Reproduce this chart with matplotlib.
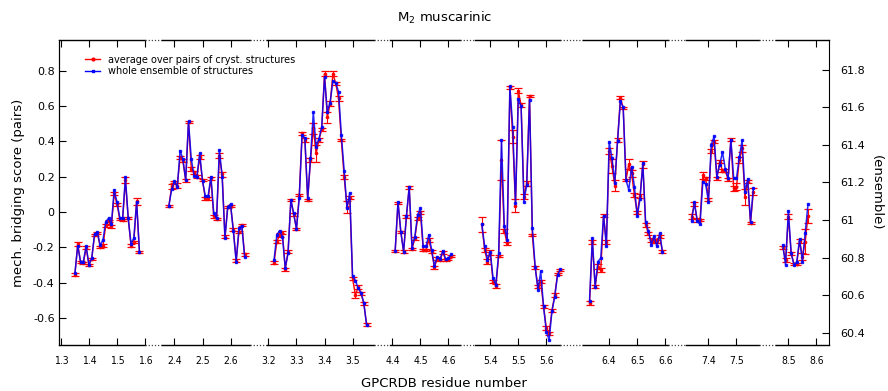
import numpy as np
import matplotlib.pyplot as plt
from matplotlib.lines import Line2D
from matplotlib.ticker import FuncFormatter

# broken x axis: one block per helix, GPCRDB generic numbers
seg_bounds = [(1.295, 1.60), (2.355, 2.67), (3.195, 3.575), (4.39, 4.64),
              (5.345, 5.65), (6.305, 6.61), (7.32, 7.58), (8.455, 8.645)]
seg_gaps = [0.06, 0.06, 0.057, 0.054, 0.079, 0.064, 0.06]
seg_ticks = [[1.3, 1.4, 1.5, 1.6], [2.4, 2.5, 2.6], [3.2, 3.3, 3.4, 3.5],
             [4.4, 4.5, 4.6], [5.4, 5.5, 5.6], [6.4, 6.5, 6.6], [7.4, 7.5], [8.5, 8.6]]
seg_first = [1.35, 2.38, 3.22, 4.41, 5.37, 6.33, 7.34, 8.48]

# average over pairs of crystal structures (left axis)
pairs_score = [
    [-0.355, -0.18, -0.285, -0.29, -0.202, -0.30, -0.265, -0.13, -0.117, -0.196, -0.19, -0.076,
     -0.053, -0.082, 0.106, 0.044, -0.042, -0.046, 0.18, -0.032, -0.19, -0.17, 0.06, -0.225],
    [0.034, 0.145, 0.17, 0.15, 0.31, 0.29, 0.18, 0.51, 0.245, 0.225, 0.2, 0.31, 0.18, 0.078,
     0.078, 0.19, -0.025, -0.04, 0.32, 0.213, -0.14, 0.03, 0.036, -0.10, -0.276, -0.111, -0.074, -0.24],
    [-0.287, -0.168, -0.13, -0.117, -0.325, -0.225, 0.068, -0.012, -0.096, 0.096, 0.445, 0.408,
     0.068, 0.295, 0.474, 0.332, 0.408, 0.468, 0.785, 0.536, 0.615, 0.785, 0.729, 0.644, 0.408,
     0.2, 0.03, 0.081, -0.376, -0.47, -0.427, -0.461, -0.517, -0.636],
    [-0.219, 0.053, -0.112, -0.225, -0.026, 0.14, -0.21, -0.15, -0.036, -0.002, -0.215, -0.215,
     -0.159, -0.225, -0.314, -0.262, -0.272, -0.228, -0.272, -0.266, -0.249],
    [-0.07, -0.215, -0.281, -0.23, -0.395, -0.42, -0.249, 0.295, -0.107, -0.178, 0.706, 0.427,
     0.036, 0.687, 0.606, 0.087, 0.162, 0.657, -0.13, -0.314, -0.423, -0.395, -0.536, -0.659,
     -0.687, -0.559, -0.47, -0.351, -0.329],
    [-0.514, -0.168, -0.423, -0.31, -0.329, -0.021, -0.168, 0.346, 0.261, 0.149, 0.408, 0.648,
     0.591, 0.181, 0.272, 0.219, 0.096, -0.004, 0.091, 0.27, -0.074, -0.121, -0.159, -0.164,
     -0.168, -0.14, -0.223],
    [-0.026, 0.046, -0.045, -0.045, 0.209, 0.191, 0.072, 0.346, 0.399, 0.191, 0.285, 0.234,
     0.234, 0.185, 0.41, 0.134, 0.143, 0.295, 0.361, 0.087, 0.172, -0.063, 0.115],
    [-0.2, -0.272, -0.026, -0.234, -0.293, -0.293, -0.164, -0.253, -0.168, -0.021],
]
pairs_err = [
    [0.008, 0.01, 0.006, 0.006, 0.008, 0.006, 0.006, 0.008, 0.006, 0.006, 0.01, 0.008,
     0.006, 0.006, 0.01, 0.008, 0.006, 0.006, 0.018, 0.006, 0.006, 0.008, 0.02, 0.006],
    [0.006, 0.012, 0.008, 0.012, 0.01, 0.008, 0.008, 0.006, 0.01, 0.008, 0.008, 0.012, 0.006, 0.008,
     0.008, 0.01, 0.01, 0.008, 0.012, 0.012, 0.008, 0.006, 0.006, 0.01, 0.008, 0.006, 0.006, 0.008],
    [0.01, 0.01, 0.01, 0.008, 0.01, 0.008, 0.008, 0.008, 0.008, 0.008, 0.01, 0.012, 0.006, 0.012,
     0.03, 0.05, 0.012, 0.01, 0.012, 0.03, 0.012, 0.015, 0.01, 0.015, 0.008, 0.012, 0.035, 0.008,
     0.01, 0.015, 0.012, 0.008, 0.008, 0.008],
    [0.006, 0.006, 0.006, 0.008, 0.008, 0.008, 0.008, 0.008, 0.01, 0.01, 0.006, 0.006, 0.012,
     0.008, 0.008, 0.008, 0.008, 0.008, 0.008, 0.008, 0.008],
    [0.042, 0.012, 0.015, 0.012, 0.01, 0.012, 0.008, 0.113, 0.01, 0.008, 0.008, 0.035, 0.035,
     0.015, 0.01, 0.015, 0.015, 0.006, 0.008, 0.008, 0.008, 0.01, 0.01, 0.012, 0.008, 0.008,
     0.01, 0.008, 0.008],
    [0.012, 0.012, 0.008, 0.015, 0.012, 0.01, 0.012, 0.015, 0.04, 0.03, 0.012, 0.01, 0.006, 0.006,
     0.03, 0.02, 0.012, 0.01, 0.01, 0.02, 0.012, 0.008, 0.01, 0.01, 0.01, 0.01, 0.008],
    [0.012, 0.012, 0.01, 0.008, 0.02, 0.008, 0.008, 0.012, 0.01, 0.008, 0.008, 0.008, 0.008,
     0.01, 0.008, 0.015, 0.02, 0.015, 0.02, 0.045, 0.01, 0.006, 0.02],
    [0.008, 0.012, 0.012, 0.008, 0.006, 0.006, 0.012, 0.02, 0.07, 0.04],
]

# whole ensemble of structures (right axis)
ensemble_score = [
    [60.717, 60.862, 60.779, 60.779, 60.862, 60.761, 60.797, 60.925, 60.935, 60.865, 60.894, 60.991,
     61.009, 60.977, 61.160, 61.095, 61.013, 61.009, 61.228, 61.009, 60.874, 60.903, 61.095, 60.832],
    [61.075, 61.163, 61.205, 61.173, 61.369, 61.323, 61.213, 61.524, 61.323, 61.235, 61.231, 61.355,
     61.205, 61.128, 61.128, 61.231, 61.036, 61.009, 61.373, 61.231, 60.903, 61.071, 61.084, 60.939,
     60.779, 60.957, 60.970, 60.805],
    [60.788, 60.921, 60.943, 60.912, 60.746, 60.823, 61.107, 61.035, 60.953, 61.119, 61.452, 61.435,
     61.116, 61.328, 61.572, 61.390, 61.430, 61.494, 61.758, 61.576, 61.624, 61.740, 61.728, 61.683,
     61.452, 61.263, 61.063, 61.145, 60.702, 60.678, 60.637, 60.614, 60.560, 60.442],
    [60.837, 61.097, 60.938, 60.832, 61.019, 61.177, 60.853, 60.912, 61.027, 61.063, 60.859, 60.859,
     60.921, 60.841, 60.756, 60.805, 60.791, 60.837, 60.791, 60.797, 60.818],
    [60.977, 60.859, 60.788, 60.832, 60.690, 60.654, 60.823, 61.426, 60.969, 60.894, 61.710, 61.497,
     61.089, 61.642, 61.604, 61.097, 61.187, 61.639, 60.959, 60.752, 60.628, 60.726, 60.540, 60.406,
     60.362, 60.516, 60.592, 60.708, 60.738],
    [60.570, 60.903, 60.646, 60.779, 60.797, 61.023, 60.859, 61.414, 61.328, 61.199, 61.422, 61.630,
     61.600, 61.213, 61.160, 61.284, 61.177, 61.019, 61.111, 61.302, 60.987, 60.942, 60.867, 60.915,
     60.859, 60.929, 60.832],
    [60.995, 61.094, 60.995, 60.977, 61.204, 61.192, 61.098, 61.400, 61.444, 61.231, 61.293, 61.361,
     61.272, 61.222, 61.427, 61.222, 61.222, 61.334, 61.423, 61.151, 61.217, 60.991, 61.169],
    [60.867, 60.760, 61.048, 60.822, 60.760, 60.778, 60.899, 60.778, 60.932, 61.084],
]

# offset of every block along the continuous plotting coordinate
offsets = []
pos = 0.0
for i, (lo, hi) in enumerate(seg_bounds):
    offsets.append(pos - lo)
    pos += hi - lo
    if i < len(seg_gaps):
        pos += seg_gaps[i]
x_total = pos

plt.rcParams['font.family'] = 'DejaVu Sans'
fig = plt.figure(figsize=(8.88, 3.91), dpi=100)
ax = fig.add_axes([0.067, 0.1176, 0.8666, 0.7801])
ax2 = ax.twinx()

for i in range(len(seg_bounds)):
    n = len(pairs_score[i])
    xs = seg_first[i] + 0.01 * np.arange(n) + offsets[i]
    ax.errorbar(xs, pairs_score[i], yerr=pairs_err[i], color='#ff0000', lw=1.0,
                marker='o', ms=1.6, elinewidth=0.8, capsize=2.8, capthick=0.9, zorder=2)
    ax2.plot(xs, ensemble_score[i], color='#0000ff', lw=1.1, marker='s', ms=1.8,
             alpha=0.85, zorder=3)

ax.set_xlim(0, x_total)
ax.set_ylim(-0.754, 0.975)
ax2.set_ylim(60.335, 61.957)

# x ticks at the generic numbers inside each block
tick_pos, tick_lab = [], []
for i, ticks in enumerate(seg_ticks):
    for t in ticks:
        tick_pos.append(t + offsets[i])
        tick_lab.append('%.1f' % t)
ax.set_xticks(tick_pos)
ax.set_xticklabels(tick_lab, fontsize=7.5, fontstretch='condensed')
ax.tick_params(axis='x', direction='in', top=True, length=5, width=0.8, pad=8)
ax.set_yticks(np.arange(-0.6, 0.81, 0.2))
ax.yaxis.set_major_formatter(FuncFormatter(lambda v, p: '%g' % round(v, 2)))
ax.tick_params(axis='y', direction='in', length=5, width=0.8, labelsize=8)
ax2.set_yticks(np.arange(60.4, 61.81, 0.2))
ax2.yaxis.set_major_formatter(FuncFormatter(lambda v, p: '%g' % round(v, 2)))
ax2.tick_params(axis='y', direction='in', length=5, width=0.8, labelsize=8, pad=8)

# frame: solid over blocks, dotted across the breaks
for a in (ax, ax2):
    a.spines['top'].set_visible(False)
    a.spines['bottom'].set_visible(False)
ax.spines['right'].set_visible(False)
tr = ax.get_xaxis_transform()
for i, (lo, hi) in enumerate(seg_bounds):
    x0, x1 = lo + offsets[i], hi + offsets[i]
    for yy in (0, 1):
        ax.plot([x0, x1], [yy, yy], color='black', lw=1.0, transform=tr, clip_on=False, zorder=5)
        if i < len(seg_gaps):
            ax.plot([x1, x1 + seg_gaps[i]], [yy, yy], color='#444444', lw=0.9, ls=(0, (1, 1.5)),
                    transform=tr, clip_on=False, zorder=5)

ax.set_title(r'M$_2$ muscarinic', fontsize=9.5, pad=13)
ax.set_xlabel('GPCRDB residue number', fontsize=9.5, labelpad=8)
ax.set_ylabel('mech. bridging score (pairs)', fontsize=9.5, labelpad=6)
ax2.set_ylabel('(ensemble)', fontsize=9.5, rotation=270, labelpad=13)

handles = [Line2D([], [], color='#ff0000', lw=1.0, marker='o', ms=2),
           Line2D([], [], color='#0000ff', lw=1.0, marker='s', ms=2)]
ax2.legend(handles, ['average over pairs of cryst. structures', 'whole ensemble of structures'],
           loc='upper left', bbox_to_anchor=(0.028, 0.965), frameon=False, fontsize=7,
           handlelength=1.6, handletextpad=0.8, labelspacing=0.15, borderaxespad=0)

fig.savefig('out.png', dpi=100)
